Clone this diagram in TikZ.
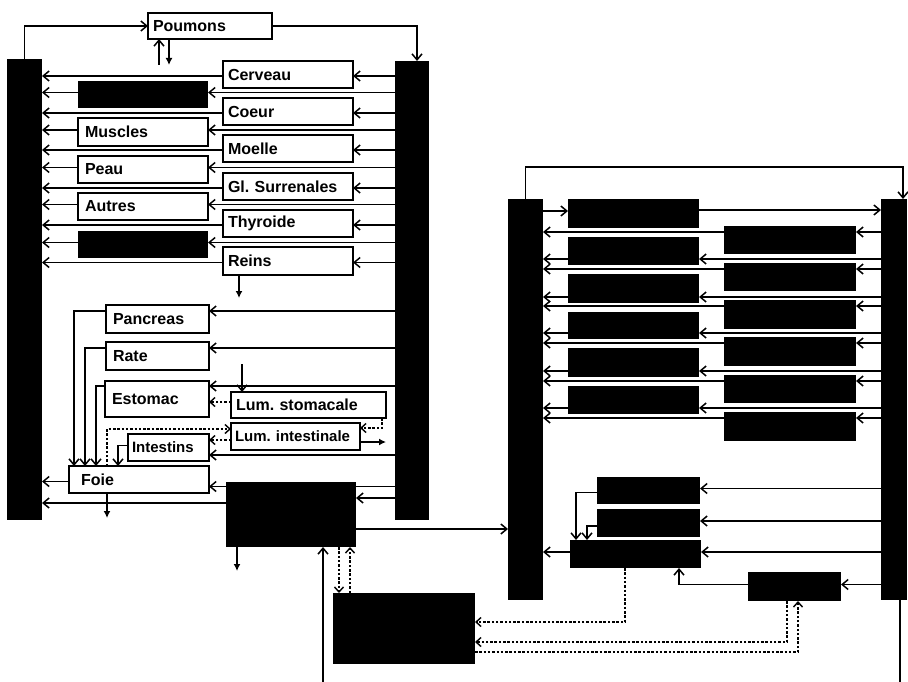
\documentclass[tikz,border=0pt]{standalone}
\usepackage{fontspec}
\setmainfont{Liberation Sans}
\usetikzlibrary{arrows.meta,calc}
\begin{document}
\frenchspacing
\begin{tikzpicture}[x=1pt,y=-1pt,
  every node/.style={inner sep=0pt, outer sep=0pt},
  bar/.style={fill=black, draw=none, anchor=north west},
  wbox/.style={draw=black, line width=1.6pt, fill=white, anchor=north west, align=left, inner xsep=5pt, inner ysep=0pt, font=\fontsize{16}{17}\selectfont\bfseries},
  kbox/.style={fill=black, draw=none, anchor=north west},
  ln/.style={line width=1.6pt},
  arr/.style={ln, -{Straight Barb[length=6pt,width=10pt,line width=1.5pt]}},
  farr/.style={ln, -{Latex[length=7pt,width=7pt]}},
  dot/.style={line width=1.5pt, dash pattern=on 2.5pt off 1.8pt},
  darr/.style={dot, -{Straight Barb[length=5pt,width=9pt,line width=1.4pt]}}
]
\useasboundingbox (0,0) rectangle (908,682);

% ---------- bars ----------
\node[bar, minimum width=35pt, minimum height=461pt] (L1) at (7,59) {};
\node[bar, minimum width=34pt, minimum height=459pt] (R1) at (395,61) {};
\node[bar, minimum width=35pt, minimum height=401pt] (R2) at (508,199) {};
\node[bar, minimum width=26pt, minimum height=401pt] (R3) at (881,199) {};

% ---------- left system ----------
\node[wbox, text width=114pt, minimum height=26pt] (pou) at (148,13) {Poumons};

\node[wbox, text width=120pt, minimum height=27pt] (cer) at (223,61) {Cerveau};
\node[wbox, text width=120pt, minimum height=27pt] (coe) at (223,98) {Coeur};
\node[wbox, text width=120pt, minimum height=27pt] (moe) at (223,135) {Moelle};
\node[wbox, text width=120pt, minimum height=27pt] (gls) at (223,173) {Gl. Surrenales};
\node[wbox, text width=120pt, minimum height=27pt] (thy) at (223,210) {Thyroide};
\node[wbox, text width=120pt, minimum height=28pt] (rei) at (223,247) {Reins};

\node[kbox, minimum width=130pt, minimum height=27pt] (k1) at (78,81) {};
\node[wbox, text width=116pt, inner xsep=7pt, minimum height=28pt] (mus) at (78,118) {Muscles};
\node[wbox, text width=116pt, inner xsep=7pt, minimum height=27pt] (peau) at (78,156) {Peau};
\node[wbox, text width=116pt, inner xsep=7pt, minimum height=27pt] (aut) at (78,193) {Autres};
\node[kbox, minimum width=130pt, minimum height=27pt] (k2) at (78,231) {};

\node[wbox, text width=89pt, inner xsep=7pt, minimum height=28pt] (pan) at (106,305) {Pancreas};
\node[wbox, text width=89pt, inner xsep=7pt, minimum height=28pt] (rat) at (106,342) {Rate};
\node[wbox, text width=90pt, inner xsep=7pt, minimum height=36pt] (est) at (105,381) {Estomac};
\node[wbox, text width=145pt, minimum height=26pt] (lst) at (231,392) {Lum. stomacale};
\node[wbox, text width=121pt, inner xsep=4pt, minimum height=27pt, font=\fontsize{15}{16}\selectfont\bfseries] (lin) at (231,423) {Lum. intestinale};
\node[wbox, text width=73pt, inner xsep=4pt, minimum height=27pt, font=\fontsize{15}{16}\selectfont\bfseries] (int) at (128,434) {Intestins};
\node[wbox, text width=116pt, inner xsep=12pt, minimum height=27pt] (fo) at (69,466) {Foie};

\node[kbox, minimum width=130pt, minimum height=65pt] (bc) at (226,482) {};
\node[kbox, minimum width=142pt, minimum height=71pt] (bb) at (333,593) {};

% Poumons
\draw[arr] (L1.north) |- (pou.west);
\draw[arr] (pou.east) -| ([xshift=5pt]R1.north);
\coordinate (pu) at (159,65);
\coordinate (pd) at (169,65);
\draw[arr] (pu) -- (pu |- pou.south);
\draw[farr] (pd |- pou.south) -- (pd);

% rows, right column boxes
\foreach \b in {cer,coe,moe,gls,thy,rei} {
  \draw[arr] ([yshift=-1.5pt]\b.east -| R1.west) -- ([yshift=-1.5pt]\b.east);
  \draw[arr] ([yshift=-1.5pt]\b.west) -- ([yshift=-1.5pt]\b.west -| L1.east);
}
% rows, left column boxes
\foreach \b in {k1,mus,peau,aut,k2} {
  \draw[arr] ([yshift=2pt]\b.east -| R1.west) -- ([yshift=2pt]\b.east);
  \draw[arr] ([yshift=2pt]\b.west) -- ([yshift=2pt]\b.west -| L1.east);
}
% Reins excretion
\coordinate (rd) at (239,298);
\draw[farr] (rei.south -| rd) -- (rd);

% splanchnic
\draw[arr] ([yshift=-6pt]pan.north east -| R1.west) -- ([yshift=-6pt]pan.north east);
\draw[arr] ([yshift=-6pt]rat.north east -| R1.west) -- ([yshift=-6pt]rat.north east);
\draw[arr] ([yshift=-5pt]est.north east -| R1.west) -- ([yshift=-5pt]est.north east);
\draw[arr] ([yshift=-6pt]pan.north west) -| ([xshift=5pt]fo.north west);
\draw[arr] ([yshift=-6pt]rat.north west) -| ([xshift=16pt]fo.north west);
\draw[arr] ([yshift=-5pt]est.north west) -| ([xshift=27pt]fo.north west);

\coordinate (ls0) at (242,364);
\draw[arr] (ls0) -- (ls0 |- lst.north);
\draw[darr] ([yshift=3pt]lst.west) -- ([yshift=3pt]lst.west -| est.east);
\draw[darr] ([xshift=-4pt]lst.south east) |- ([yshift=8.5pt]lin.east);
\draw[darr] ([xshift=38pt]fo.north west) |- ([yshift=7.5pt]lin.west);
\draw[darr] ([yshift=-3.5pt]lin.west) -- ([yshift=-3.5pt]lin.west -| int.east);
\coordinate (lo) at (386,442);
\draw[farr] (lin.east |- lo) -- (lo);

\draw[arr] ([yshift=6pt]int.south east -| R1.west) -- ([yshift=6pt]int.south east);
\draw[arr] ([yshift=2pt]int.west) -| ([xshift=49pt]fo.north west);

\draw[arr] ([yshift=-7pt]fo.east -| R1.west) -- ([yshift=-7pt]fo.east);
\draw[arr] ([yshift=-2pt]fo.west) -- ([yshift=-2pt]fo.west -| L1.east);
\coordinate (fd) at (107,518);
\draw[farr] (fo.south -| fd) -- (fd);

% black center box
\draw[arr] ([yshift=-16pt]bc.north east -| R1.west) -- ([yshift=-16pt]bc.north east);
\draw[arr] ([yshift=-21pt]bc.north west) -- ([yshift=-21pt]bc.north west -| L1.east);
\draw[arr] ([yshift=-47pt]bc.north east) -- ([yshift=-47pt]bc.north east -| R2.west);
\coordinate (bcd) at (237,571);
\draw[farr] (bc.south -| bcd) -- (bcd);
\coordinate (bu) at (323,682);
\draw[arr] (bu) -- (bu |- bc.south);
\draw[darr] ([xshift=113pt]bc.south west) -- ([xshift=113pt]bc.south west |- bb.north);
\draw[darr] ([xshift=124pt]bc.south west |- bb.north) -- ([xshift=124pt]bc.south west);

% ---------- right system ----------
\node[kbox, minimum width=131pt, minimum height=29pt] (ka) at (568,199) {};
\node[kbox, minimum width=131pt, minimum height=28pt] (kb) at (568,237) {};
\node[kbox, minimum width=131pt, minimum height=29pt] (kc) at (568,274) {};
\node[kbox, minimum width=131pt, minimum height=27pt] (kd) at (568,312) {};
\node[kbox, minimum width=131pt, minimum height=29pt] (ke) at (568,348) {};
\node[kbox, minimum width=131pt, minimum height=28pt] (kf) at (568,386) {};

\node[kbox, minimum width=132pt, minimum height=28pt] (kg) at (724,226) {};
\node[kbox, minimum width=132pt, minimum height=28pt] (kh) at (724,263) {};
\node[kbox, minimum width=132pt, minimum height=29pt] (ki) at (724,300) {};
\node[kbox, minimum width=132pt, minimum height=29pt] (kj) at (724,337) {};
\node[kbox, minimum width=132pt, minimum height=28pt] (kk) at (724,375) {};
\node[kbox, minimum width=132pt, minimum height=29pt] (kl) at (724,412) {};

\node[kbox, minimum width=103pt, minimum height=27pt] (km) at (597,477) {};
\node[kbox, minimum width=103pt, minimum height=28pt] (kn) at (597,509) {};
\node[kbox, minimum width=131pt, minimum height=28pt] (ko) at (570,540) {};
\node[kbox, minimum width=93pt, minimum height=29pt] (kp) at (748,572) {};

\draw[arr] (R2.north) -- ++(0,-32) -| ([xshift=9pt]R3.north);

\draw[arr] ([yshift=-12pt]ka.north west -| R2.east) -- ([yshift=-12pt]ka.north west);
\draw[arr] ([yshift=-11pt]ka.north east) -- ([yshift=-11pt]ka.north east -| R3.west);

\foreach \b in {kg,kh,ki,kj,kk,kl} {
  \draw[arr] ([yshift=-6pt]\b.north east -| R3.west) -- ([yshift=-6pt]\b.north east);
  \draw[arr] ([yshift=-6pt]\b.north west) -- ([yshift=-6pt]\b.north west -| R2.east);
}
\foreach \b in {kb,kc,kd,ke,kf} {
  \draw[arr] ([yshift=6pt]\b.south east -| R3.west) -- ([yshift=6pt]\b.south east);
  \draw[arr] ([yshift=6pt]\b.south west) -- ([yshift=6pt]\b.south west -| R2.east);
}

\draw[arr] ([yshift=2pt]km.east -| R3.west) -- ([yshift=2pt]km.east);
\draw[arr] ([yshift=2pt]kn.east -| R3.west) -- ([yshift=2pt]kn.east);
\draw[arr] ([yshift=2pt]ko.east -| R3.west) -- ([yshift=2pt]ko.east);
\draw[arr] ([yshift=2pt]kp.east -| R3.west) -- ([yshift=2pt]kp.east);
\draw[arr] ([yshift=-2pt]km.west) -| ([xshift=6pt]ko.north west);
\draw[arr] ([yshift=-3pt]kn.west) -| ([xshift=17pt]ko.north west);
\draw[arr] ([yshift=2pt]ko.west) -- ([yshift=2pt]ko.west -| R2.east);
\draw[arr] ([yshift=2pt]kp.west) -| ([xshift=109pt]ko.south west);

\draw[darr] ([xshift=55pt]ko.south west) |- ([yshift=6.5pt]bb.east);
\draw[darr] ([xshift=39pt]kp.south west) |- ([yshift=-13.5pt]bb.east);
\draw[darr] ([yshift=-23.5pt]bb.east) -| ([xshift=50pt]kp.south west);

\coordinate (r3b) at (900,682);
\draw[ln] (r3b |- R3.south) -- (r3b);
\end{tikzpicture}
\end{document}
